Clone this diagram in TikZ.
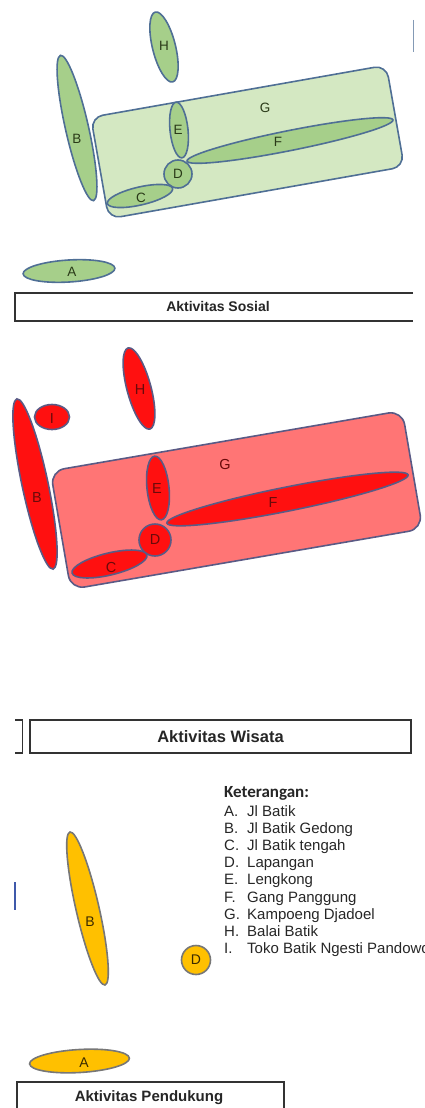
\documentclass[tikz,border=0pt]{standalone}
\usepackage{fontspec}
\setmainfont{Liberation Sans}
\newfontfamily\carlito{Carlito}
\usetikzlibrary{shapes.geometric}
\definecolor{gLight}{HTML}{D4E8C2}
\definecolor{gMid}{HTML}{A6CF8A}
\definecolor{gLine}{HTML}{4F6F95}
\definecolor{gText}{HTML}{2A3A18}
\definecolor{rLight}{HTML}{FF7575}
\definecolor{rMid}{HTML}{FF1010}
\definecolor{rLine}{HTML}{5A5A85}
\definecolor{rText}{HTML}{6A0A0A}
\definecolor{yMid}{HTML}{FFC000}
\definecolor{yLine}{HTML}{777777}
\definecolor{yText}{HTML}{3A2A00}
\definecolor{boxLine}{HTML}{333333}
\tikzset{
  shp/.style={ellipse, inner sep=0pt, outer sep=0pt, line width=1.6pt},
  gshape/.style={shp, draw=gLine, fill=gMid},
  rshape/.style={shp, draw=rLine, fill=rMid},
  yshape/.style={shp, draw=yLine, fill=yMid},
  area/.style={rectangle, inner sep=0pt, outer sep=0pt, line width=1.6pt},
  glab/.style={text=gText, font=\fontsize{13.5}{15}\selectfont, inner sep=0pt},
  rlab/.style={text=rText, font=\fontsize{14.5}{16}\selectfont, inner sep=0pt},
  ylab/.style={text=yText, font=\fontsize{14}{16}\selectfont, inner sep=0pt},
  boxpath/.style={draw=boxLine, line width=1.8pt},
  legitem/.style={anchor=base west, inner sep=0pt, font=\fontsize{15}{17}\selectfont, text=black!85},
}
\begin{document}
\begin{tikzpicture}[x=1pt, y=-1pt]
\path[use as bounding box] (0,0) rectangle (425,1108);

% ---------------- Aktivitas Sosial (green) ----------------
\node[area, draw=gLine, fill=gLight, rounded corners=12pt, minimum width=300pt, minimum height=103pt, rotate=10] (gG) at (247.5,142) {};
\node[gshape, minimum width=23pt, minimum height=72pt, rotate=14] (gH) at (164,47) {};
\node[gshape, minimum width=23pt, minimum height=149pt, rotate=12.8] (gB) at (77,128) {};
\node[gshape, minimum width=18pt, minimum height=56pt, rotate=6] (gE) at (179,130) {};
\node[gshape, minimum width=28pt, minimum height=28pt] (gD) at (178,174) {};
\node[gshape, minimum width=67pt, minimum height=18pt, rotate=13] (gC) at (140,196) {};
\node[gshape, minimum width=210pt, minimum height=20pt, rotate=11.3] (gF) at (290,140.5) {};
\node[gshape, minimum width=92pt, minimum height=22pt, rotate=3.5] (gA) at (69,271) {};
\node[glab] (lgH) at (164,46) {H};
\node[glab] (lgB) at (77,139) {B};
\node[glab] (lgE) at (178,130) {E};
\node[glab] (lgD) at (178,174) {D};
\node[glab] (lgC) at (141,198) {C};
\node[glab] (lgF) at (278,142) {F};
\node[glab] (lgG) at (265,108) {G};
\node[glab] (lgA) at (72,272) {A};
\draw[draw=gLine!70, line width=1pt] (413,20) -- (413,52);
\draw[boxpath] (413,293) -- (15,293) -- (15,321) -- (413,321);
\node[font=\bfseries\fontsize{14}{16}\selectfont, inner sep=0pt, text=black!85] (tSosial) at (218,306) {Aktivitas Sosial};

% ---------------- Aktivitas Wisata (red) ----------------
\node[area, draw=rLine, fill=rLight, rounded corners=14pt, minimum width=357pt, minimum height=120pt, rotate=9.75] (rG) at (236.5,500) {};
\node[rshape, minimum width=24pt, minimum height=84pt, rotate=15] (rH) at (139,388.5) {};
\node[rshape, minimum width=35pt, minimum height=25pt] (rI) at (52,417) {};
\node[rshape, minimum width=26pt, minimum height=174pt, rotate=12] (rB) at (35,484) {};
\node[rshape, minimum width=22pt, minimum height=64pt, rotate=6] (rE) at (158,488) {};
\node[rshape, minimum width=32pt, minimum height=32pt] (rD) at (155,540) {};
\node[rshape, minimum width=77pt, minimum height=22pt, rotate=13.5] (rC) at (109.5,564) {};
\node[rshape, minimum width=246pt, minimum height=24pt, rotate=11.3] (rF) at (287.5,499) {};
\node[rlab] (lrH) at (140,390) {H};
\node[rlab] (lrI) at (52,419) {I};
\node[rlab] (lrB) at (37,498) {B};
\node[rlab] (lrE) at (157,489) {E};
\node[rlab] (lrD) at (155,540) {D};
\node[rlab] (lrC) at (111,568) {C};
\node[rlab] (lrG) at (225,465) {G};
\node[rlab] (lrF) at (273,503) {F};
\draw[boxpath] (15,720) -- (22.5,720) -- (22.5,753) -- (15,753);
\node[draw=boxLine, line width=1.8pt, minimum width=381pt, minimum height=33pt, inner sep=0pt, font=\bfseries\fontsize{16.5}{18}\selectfont, text=black!85] (tWisata) at (220.5,736.5) {Aktivitas Wisata};

% ---------------- Aktivitas Pendukung (yellow) ----------------
\node[yshape, minimum width=23pt, minimum height=157pt, rotate=12.9] (yB) at (87.5,908.5) {};
\node[yshape, minimum width=29pt, minimum height=29pt] (yD) at (196,960) {};
\node[yshape, minimum width=100pt, minimum height=23pt, rotate=3.3] (yA) at (79.5,1061) {};
\node[ylab] (lyB) at (90,922) {B};
\node[ylab] (lyD) at (196,960) {D};
\node[ylab] (lyA) at (84,1063) {A};
\draw[draw=gLine!80!blue, line width=1.2pt] (15,882) -- (15,910);
\draw[boxpath] (17,1112) -- (17,1082) -- (284,1082) -- (284,1112);
\node[font=\bfseries\fontsize{15}{17}\selectfont, inner sep=0pt, text=black!85] (tPendukung) at (149,1098) {Aktivitas Pendukung};

% ---------------- Legend ----------------
\node[anchor=base west, inner sep=0pt, font=\carlito\bfseries\fontsize{17}{19}\selectfont, text=black!85] (kTitle) at (224,797) {Keterangan:};
\foreach \i/\l/\t in {0/A./Jl Batik, 1/B./Jl Batik Gedong, 2/C./Jl Batik tengah, 3/D./Lapangan, 4/E./Lengkong, 5/F./Gang Panggung, 6/G./Kampoeng Djadoel, 7/H./Balai Batik, 8/I./Toko Batik Ngesti Pandowo}{
  \node[legitem] (kL\i) at (224,816+17.2*\i) {\l};
  \node[legitem] (kT\i) at (247,816+17.2*\i) {\t};
}
\end{tikzpicture}
\end{document}
